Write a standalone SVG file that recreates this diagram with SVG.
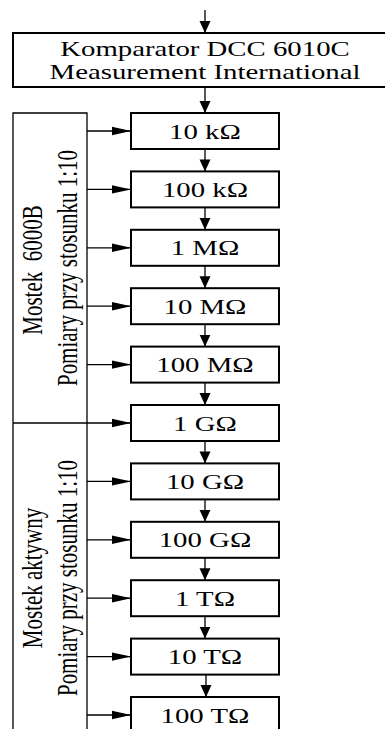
<svg xmlns="http://www.w3.org/2000/svg" width="385" height="729" viewBox="0 0 385 729">
<defs>
<style>
.bx{fill:#fff;stroke:#000;stroke-width:2}
.ln{fill:none;stroke:#000;stroke-width:1.3}
.t{font-family:"Liberation Serif","Times New Roman",serif;font-size:20px;fill:#000;text-anchor:middle}
.r{font-family:"Liberation Serif","Times New Roman",serif;font-size:21px;fill:#000;text-anchor:middle;white-space:pre}
</style>
<marker id="av" markerUnits="userSpaceOnUse" markerWidth="12" markerHeight="12" viewBox="0 0 12 12" refX="12" refY="6" orient="auto"><path d="M0,0.5 L12,6 L0,11.5 Z" fill="#000"/></marker>
<marker id="ah" markerUnits="userSpaceOnUse" markerWidth="19" markerHeight="10" viewBox="0 0 19 10" refX="19" refY="5" orient="auto"><path d="M0,0.8 L19,5 L0,9.2 Z" fill="#000"/></marker>
</defs>
<rect width="385" height="729" fill="#fff"/>
<g id="bracket">
<path class="ln" d="M13,729 V113 H87 V729"/>
<path class="ln" d="M13,423 H87"/>
<text class="r" transform="translate(42,270) scale(1.4,1) rotate(-90)">Mostek  6000B</text>
<text class="r" transform="translate(77,268) scale(1.4,1) rotate(-90)">Pomiary przy stosunku 1:10</text>
<text class="r" transform="translate(42,578) scale(1.4,1) rotate(-90)">Mostek aktywny</text>
<text class="r" transform="translate(77,578) scale(1.4,1) rotate(-90)">Pomiary przy stosunku 1:10</text>
</g>
<g id="connectors">
<path class="ln" d="M205,10 V33" marker-end="url(#av)"/>
<path class="ln" d="M205,87 V113" marker-end="url(#av)"/>
<path class="ln" d="M205,149 V171.4" marker-end="url(#av)"/>
<path class="ln" d="M205,207.4 V229.8" marker-end="url(#av)"/>
<path class="ln" d="M205,265.8 V288.2" marker-end="url(#av)"/>
<path class="ln" d="M205,324.2 V346.6" marker-end="url(#av)"/>
<path class="ln" d="M205,382.6 V405" marker-end="url(#av)"/>
<path class="ln" d="M205,441 V463.4" marker-end="url(#av)"/>
<path class="ln" d="M205,499.4 V521.8" marker-end="url(#av)"/>
<path class="ln" d="M205,557.8 V580.2" marker-end="url(#av)"/>
<path class="ln" d="M205,616.2 V638.6" marker-end="url(#av)"/>
<path class="ln" d="M206,674.6 V697" marker-end="url(#av)"/>
<path class="ln" d="M87,131 H131" marker-end="url(#ah)"/>
<path class="ln" d="M87,189.4 H131" marker-end="url(#ah)"/>
<path class="ln" d="M87,247.8 H131" marker-end="url(#ah)"/>
<path class="ln" d="M87,306.2 H131" marker-end="url(#ah)"/>
<path class="ln" d="M87,364.6 H131" marker-end="url(#ah)"/>
<path class="ln" d="M87,423 H131" marker-end="url(#ah)"/>
<path class="ln" d="M87,481.4 H131" marker-end="url(#ah)"/>
<path class="ln" d="M87,539.8 H131" marker-end="url(#ah)"/>
<path class="ln" d="M87,598.2 H131" marker-end="url(#ah)"/>
<path class="ln" d="M87,656.6 H131" marker-end="url(#ah)"/>
<path class="ln" d="M87,715 H131" marker-end="url(#ah)"/>
</g>
<g id="komparator">
<rect class="bx" x="13" y="33" width="380" height="54"/>
<text class="t" transform="translate(205,56) scale(1.44,1)">Komparator DCC 6010C</text>
<text class="t" transform="translate(205,79) scale(1.44,1)">Measurement International</text>
</g>
<g id="r10k"><rect class="bx" x="131" y="113" width="148" height="36"/><text class="t" transform="translate(205,138.5) scale(1.44,1)">10 kΩ</text></g>
<g id="r100k"><rect class="bx" x="131" y="171.4" width="148" height="36"/><text class="t" transform="translate(205,196.9) scale(1.44,1)">100 kΩ</text></g>
<g id="r1M"><rect class="bx" x="131" y="229.8" width="148" height="36"/><text class="t" transform="translate(205,255.3) scale(1.44,1)">1 MΩ</text></g>
<g id="r10M"><rect class="bx" x="131" y="288.2" width="148" height="36"/><text class="t" transform="translate(205,313.7) scale(1.44,1)">10 MΩ</text></g>
<g id="r100M"><rect class="bx" x="131" y="346.6" width="148" height="36"/><text class="t" transform="translate(205,372.1) scale(1.44,1)">100 MΩ</text></g>
<g id="r1G"><rect class="bx" x="131" y="405" width="148" height="36"/><text class="t" transform="translate(205,430.5) scale(1.44,1)">1 GΩ</text></g>
<g id="r10G"><rect class="bx" x="131" y="463.4" width="148" height="36"/><text class="t" transform="translate(205,488.9) scale(1.44,1)">10 GΩ</text></g>
<g id="r100G"><rect class="bx" x="131" y="521.8" width="148" height="36"/><text class="t" transform="translate(205,547.3) scale(1.44,1)">100 GΩ</text></g>
<g id="r1T"><rect class="bx" x="131" y="580.2" width="148" height="36"/><text class="t" transform="translate(205,605.7) scale(1.44,1)">1 TΩ</text></g>
<g id="r10T"><rect class="bx" x="131" y="638.6" width="148" height="36"/><text class="t" transform="translate(205,664.1) scale(1.44,1)">10 TΩ</text></g>
<g id="r100T"><rect class="bx" x="131" y="697" width="148" height="36"/><text class="t" transform="translate(205,722.5) scale(1.44,1)">100 TΩ</text></g>
</svg>
